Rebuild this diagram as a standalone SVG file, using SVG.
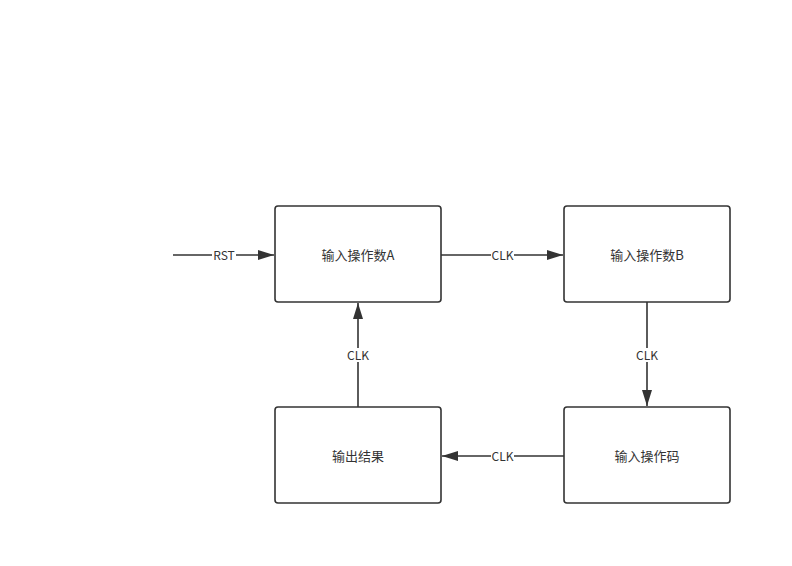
<svg xmlns="http://www.w3.org/2000/svg" width="792" height="566" viewBox="0 0 792 566">
<style>
.box{fill:#fff;stroke:#333;stroke-width:1.6}
.ln{fill:none;stroke:#333;stroke-width:1.6}
.t{font-family:"Noto Sans CJK SC","Liberation Sans",sans-serif;font-size:12px;fill:#333;text-anchor:middle;dominant-baseline:central}
.n{font-size:13px}
.lb{fill:#fff}
</style>
<defs>
<marker id="ah" viewBox="0 0 16 10" refX="16" refY="5" markerWidth="16" markerHeight="10" markerUnits="userSpaceOnUse" orient="auto">
<path d="M0,0 L16,5 L0,10 Z" fill="#333"/>
</marker>
</defs>
<rect width="792" height="566" fill="#fff"/>
<g id="connectors">
<line class="ln" x1="173" y1="255" x2="274" y2="255" marker-end="url(#ah)"/>
<rect class="lb" x="212" y="248" width="24" height="14"/>
<text class="t" x="224" y="254">RST</text>
<line class="ln" x1="441" y1="255" x2="563" y2="255" marker-end="url(#ah)"/>
<rect class="lb" x="491" y="248" width="23" height="14"/>
<text class="t" x="502.5" y="254">CLK</text>
<line class="ln" x1="647" y1="302" x2="647" y2="406" marker-end="url(#ah)"/>
<rect class="lb" x="634" y="348" width="27" height="14"/>
<text class="t" x="647" y="354">CLK</text>
<line class="ln" x1="564" y1="456" x2="442" y2="456" marker-end="url(#ah)"/>
<rect class="lb" x="491" y="449" width="23" height="14"/>
<text class="t" x="502.5" y="455">CLK</text>
<line class="ln" x1="358" y1="407" x2="358" y2="303" marker-end="url(#ah)"/>
<rect class="lb" x="345" y="348" width="27" height="14"/>
<text class="t" x="358" y="354">CLK</text>
</g>
<g id="nodeA">
<rect class="box" x="275" y="206" width="166" height="96" rx="3"/>
<text class="t n" x="358" y="254">输入操作数A</text>
</g>
<g id="nodeB">
<rect class="box" x="564" y="206" width="166" height="96" rx="3"/>
<text class="t n" x="647" y="254">输入操作数B</text>
</g>
<g id="nodeOp">
<rect class="box" x="564" y="407" width="166" height="96" rx="3"/>
<text class="t n" x="647" y="455">输入操作码</text>
</g>
<g id="nodeOut">
<rect class="box" x="275" y="407" width="166" height="96" rx="3"/>
<text class="t n" x="358" y="455">输出结果</text>
</g>
</svg>
